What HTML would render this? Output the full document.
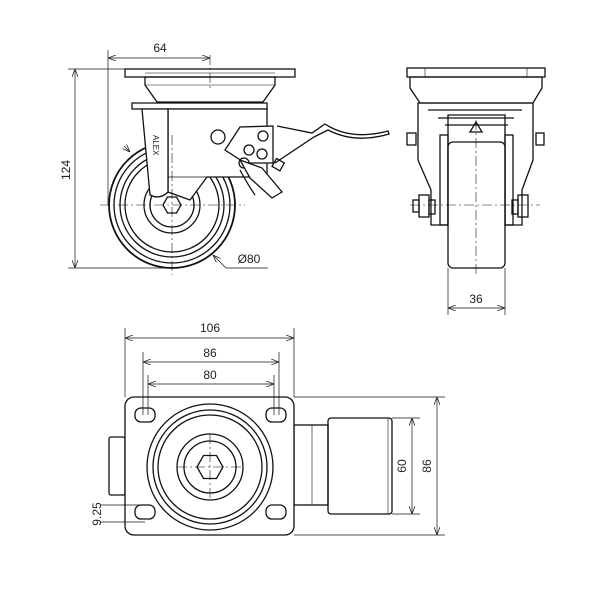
<!DOCTYPE html>
<html><head><style>body{margin:0;background:#fff}svg{display:block}</style></head>
<body>
<svg width="600" height="600" viewBox="0 0 600 600" xmlns="http://www.w3.org/2000/svg" font-family="Liberation Sans, sans-serif" font-size="12" fill="none" stroke="#111" stroke-width="1">
<defs>
<marker id="a" markerWidth="8" markerHeight="6" refX="8" refY="3" orient="auto-start-reverse" markerUnits="userSpaceOnUse"><path d="M0,0 L8,3 L0,6" fill="none" stroke="#222" stroke-width="0.8"/></marker>
</defs>
<!-- SIDE VIEW -->
<g stroke-width="1.3">
<rect x="125" y="69" width="170" height="8"/>
<line x1="145" y1="73" x2="275" y2="73" stroke-width="0.6"/>
<path d="M145,77 L275,77 L275,85 L263,102 L157,102 L145,85 Z"/>
<line x1="145" y1="85" x2="275" y2="85" stroke-width="0.6"/>
<path d="M132,103 L267,103 L267,109 L132,109 Z"/>
<circle cx="172" cy="205" r="63" stroke-width="1.8"/>
<circle cx="172" cy="205" r="58"/>
<circle cx="172" cy="205" r="52"/>
<circle cx="172" cy="205" r="47"/>
<circle cx="172" cy="205" r="28"/>
<circle cx="172" cy="205" r="22"/>
<path d="M168,109 L267,109 L267,177 L207,177 L190,200 L168,192 Z" fill="#fff"/>
<path d="M142,109 L168,109 L168,192 Q160,200 150,195 Z" fill="#fff"/>
<line x1="168" y1="177" x2="207" y2="177" stroke-width="0.8"/>
<polygon points="163,205 167.5,197 176.5,197 181,205 176.5,213 167.5,213" fill="#fff"/>
<text x="153" y="135" font-size="8" fill="#222" stroke="none" transform="rotate(90 153 135)">ALEX</text>
<!-- brake -->
<circle cx="218" cy="137" r="7" fill="#fff"/>
<path d="M225,150 L240,127 L273,126 L273,163 L245,163 Z" fill="#fff"/>
<circle cx="263" cy="136" r="5"/><circle cx="249" cy="150" r="5"/><circle cx="262" cy="154" r="5"/><circle cx="244" cy="163" r="5"/>
<path d="M240,160 L262,168 L282,192 L272,198 L250,178 Z" fill="#fff"/>
<path d="M240,170 Q248,185 255,195" />
<rect x="274" y="160" width="9" height="9" transform="rotate(30 278 164)"/>
<path d="M277,126 L312,133 L325,124 L330,127 Q355,140 388,131 L389,134 Q355,144 328,130 L314,137 L275,163"/>
</g>
<g stroke-width="0.6" stroke-dasharray="10,3,2,3">
<line x1="100" y1="205" x2="245" y2="205"/><line x1="172" y1="135" x2="172" y2="275"/>
<line x1="210" y1="55" x2="210" y2="88"/>
</g>
<g stroke-width="0.7">
<line x1="108" y1="50" x2="108" y2="205"/>
<line x1="108" y1="58" x2="210" y2="58" marker-start="url(#a)" marker-end="url(#a)"/>
<line x1="68" y1="69" x2="125" y2="69"/><line x1="68" y1="268" x2="172" y2="268"/>
<line x1="75" y1="69" x2="75" y2="268" marker-start="url(#a)" marker-end="url(#a)"/>
<line x1="124" y1="146" x2="130" y2="152" marker-end="url(#a)"/>
<line x1="213" y1="255" x2="226" y2="268" marker-start="url(#a)"/><line x1="226" y1="268" x2="268" y2="268"/>
</g>
<g fill="#222" stroke="none" font-size="12">
<text x="160" y="52" text-anchor="middle">64</text>
<text x="70" y="170" text-anchor="middle" transform="rotate(-90 70 170)">124</text>
<text x="249" y="263" text-anchor="middle">Ø80</text>
</g>
<!-- FRONT VIEW -->
<g stroke-width="1.3">
<rect x="407" y="68" width="138" height="9"/>
<line x1="425" y1="68" x2="425" y2="77" stroke-width="0.6"/><line x1="527" y1="68" x2="527" y2="77" stroke-width="0.6"/>
<path d="M410,77 L542,77 L542,88 L533,103 L420,103 L410,88 Z"/>
<path d="M418,103 L533,103 L533,160 L522,190 L522,225 L505,225 L505,115 L448,115 L448,225 L431,225 L431,190 L418,160 Z"/>
<path d="M428,110 L522,110 M438,118 L514,118 M445,125 L508,125"/>
<polygon points="470,132 476,122 482,132"/>
<rect x="448" y="142" width="57" height="126" rx="5" fill="#fff"/>
<rect x="440" y="135" width="8" height="90"/><rect x="505" y="135" width="8" height="90"/>
<rect x="407" y="133" width="9" height="12"/><rect x="536" y="133" width="8" height="12"/>
<rect x="419" y="195" width="10" height="22"/><rect x="413" y="200" width="6" height="12"/>
<rect x="518" y="195" width="10" height="22"/>
<rect x="429" y="200" width="6" height="14"/><rect x="512" y="200" width="6" height="14"/>
</g>
<g stroke-width="0.6" stroke-dasharray="10,3,2,3">
<line x1="476" y1="120" x2="476" y2="275"/><line x1="410" y1="205" x2="540" y2="205"/>
</g>
<g stroke-width="0.7">
<line x1="448" y1="268" x2="448" y2="315"/><line x1="505" y1="268" x2="505" y2="315"/>
<line x1="448" y1="308" x2="505" y2="308" marker-start="url(#a)" marker-end="url(#a)"/>
</g>
<text x="476" y="303" text-anchor="middle" fill="#222" stroke="none">36</text>
<!-- PLAN VIEW -->
<g stroke-width="1.3">
<rect x="109" y="437" width="16" height="58" rx="2"/>
<rect x="294" y="425" width="34" height="80"/>
<line x1="312" y1="425" x2="312" y2="505" stroke-width="0.6"/>
<rect x="328" y="418" width="64" height="96" rx="3"/>
<line x1="388" y1="418" x2="388" y2="514" stroke-width="0.6"/>
<rect x="125" y="397" width="169" height="138" rx="9" fill="#fff"/>
<rect x="135" y="408" width="20" height="14" rx="6"/><rect x="266" y="408" width="20" height="14" rx="6"/>
<rect x="135" y="505" width="20" height="14" rx="6"/><rect x="266" y="505" width="20" height="14" rx="6"/>
<circle cx="210" cy="467" r="63"/>
<circle cx="210" cy="467" r="57"/>
<circle cx="210" cy="467" r="52"/>
<circle cx="210" cy="467" r="33"/>
<circle cx="210" cy="467" r="26"/>
<polygon points="197,467 203.5,455.5 216.5,455.5 223,467 216.5,478.5 203.5,478.5"/>
</g>
<g stroke-width="0.6" stroke-dasharray="10,3,2,3">
<line x1="177" y1="467" x2="243" y2="467"/><line x1="210" y1="434" x2="210" y2="500"/>
</g>
<g stroke-width="0.7">
<line x1="125" y1="328" x2="125" y2="397"/><line x1="294" y1="328" x2="294" y2="397"/>
<line x1="125" y1="338" x2="294" y2="338" marker-start="url(#a)" marker-end="url(#a)"/>
<line x1="143" y1="352" x2="143" y2="415"/><line x1="279" y1="352" x2="279" y2="415"/>
<line x1="143" y1="362" x2="279" y2="362" marker-start="url(#a)" marker-end="url(#a)"/>
<line x1="148" y1="375" x2="148" y2="415"/><line x1="274" y1="375" x2="274" y2="415"/>
<line x1="148" y1="384" x2="274" y2="384" marker-start="url(#a)" marker-end="url(#a)"/>
<line x1="392" y1="418" x2="420" y2="418"/><line x1="392" y1="514" x2="420" y2="514"/>
<line x1="412" y1="418" x2="412" y2="514" marker-start="url(#a)" marker-end="url(#a)"/>
<line x1="294" y1="397" x2="445" y2="397"/><line x1="294" y1="535" x2="445" y2="535"/>
<line x1="437" y1="397" x2="437" y2="535" marker-start="url(#a)" marker-end="url(#a)"/>
<line x1="100" y1="505" x2="145" y2="505"/><line x1="100" y1="522" x2="145" y2="522"/>
</g>
<g fill="#222" stroke="none">
<text x="210" y="332" text-anchor="middle">106</text>
<text x="210" y="357" text-anchor="middle">86</text>
<text x="210" y="379" text-anchor="middle">80</text>
<text x="406" y="466" text-anchor="middle" transform="rotate(-90 406 466)">60</text>
<text x="431" y="466" text-anchor="middle" transform="rotate(-90 431 466)">86</text>
<text x="101" y="514" text-anchor="middle" transform="rotate(-90 101 514)">9.25</text>
</g>
</svg>
</body></html>
